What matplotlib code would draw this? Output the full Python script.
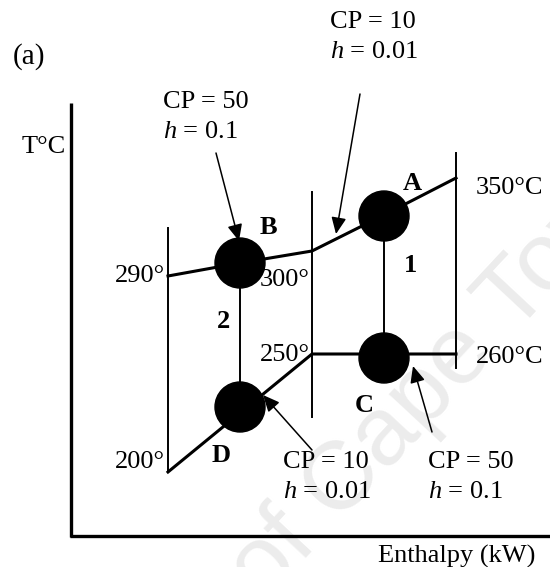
import matplotlib
matplotlib.use("Agg")
import matplotlib.pyplot as plt
from matplotlib.patches import Circle

plt.rcParams['font.family'] = 'Liberation Serif'
plt.rcParams['mathtext.fontset'] = 'custom'
plt.rcParams['mathtext.rm'] = 'Liberation Serif'
plt.rcParams['mathtext.it'] = 'Liberation Serif:italic'

# schematic coordinates (diagram units, y grows downwards)
zone_x = [168, 312, 456]          # interval boundaries (enthalpy)
zone_top = [228, 192, 153]
zone_bot = [472, 417, 368]

hot_x = [168, 240, 312, 384, 456]
hot_y = [276, 263, 251, 215, 178]
cold_x = [168, 312, 456]
cold_y = [472, 354, 354]

# exchangers: name, x, y
units = {'A': (384, 216), 'B': (240, 263), 'C': (384, 358), 'D': (240, 407)}
unit_labels = {'A': (412, 183), 'B': (268, 228), 'C': (364, 405), 'D': (221, 456)}
match_lines = [('A', 'C', '1', (410, 266)), ('B', 'D', '2', (224, 322))]

temp_labels = [('290°', 165, 276, 'right'), ('300°', 260, 280, 'left'),
               ('350°C', 476, 188, 'left'), ('250°', 260, 355, 'left'),
               ('260°C', 476, 357, 'left'), ('200°', 165, 462, 'right')]

notes = [('CP = 50', '0.1', (163, 102), (216, 153), (239, 241)),
         ('CP = 10', '0.01', (330, 22), (360, 94), (336, 234)),
         ('CP = 10', '0.01', (283, 462), (312, 450), (263, 395)),
         ('CP = 50', '0.1', (428, 462), (432, 432), (413, 366))]

fig = plt.figure(figsize=(5.5, 5.67), dpi=100)
ax = fig.add_axes([0, 0, 1, 1])
ax.set_xlim(0, 550)
ax.set_ylim(567, 0)
ax.axis('off')

fs = 19

# watermark
ax.text(293, 535, 'University of Cape Town', fontsize=70, family='Liberation Sans',
        color='#ececec', rotation=47, ha='center', va='center', zorder=0,
        rotation_mode='anchor')

# axes
ax.plot([71, 71], [103, 537], color='black', lw=2.4, solid_capstyle='butt')
ax.plot([70, 550], [536, 536], color='black', lw=2.4, solid_capstyle='butt')
ax.text(22, 147, 'T°C', fontsize=fs, ha='left', va='center')
ax.text(535, 556, 'Enthalpy (kW)', fontsize=fs, ha='right', va='center')
ax.text(13, 57, '(a)', fontsize=fs + 2, ha='left', va='center')

for x, t, b in zip(zone_x, zone_top, zone_bot):
    ax.plot([x, x], [t, b], color='black', lw=1.4)

ax.plot(hot_x, hot_y, color='black', lw=2.2)
ax.plot(cold_x, cold_y, color='black', lw=2.2)

for top, bot, num, pos in match_lines:
    ax.plot([units[top][0], units[bot][0]], [units[top][1], units[bot][1]],
            color='black', lw=1.4)
    ax.text(pos[0], pos[1], num, fontsize=fs, fontweight='bold', ha='center', va='center')

for k, (x, y) in units.items():
    ax.add_patch(Circle((x, y), 25, color='black', zorder=3))
    lx, ly = unit_labels[k]
    ax.text(lx, ly, k, fontsize=fs, fontweight='bold', ha='center', va='center')

for s, x, y, ha in temp_labels:
    ax.text(x, y, s, fontsize=fs, ha=ha, va='center')

for cp, h, tpos, tail, tip in notes:
    ax.text(tpos[0], tpos[1], cp, fontsize=fs, ha='left', va='center')
    ax.text(tpos[0], tpos[1] + 30, r'$h$ = ' + h, fontsize=fs, ha='left', va='center')
    ax.annotate('', xy=tip, xytext=tail,
                arrowprops=dict(arrowstyle='-|>,head_length=1.0,head_width=0.45',
                                color='black', lw=1.1, shrinkA=0, shrinkB=0),
                zorder=4)

fig.savefig('out.png', dpi=100)
